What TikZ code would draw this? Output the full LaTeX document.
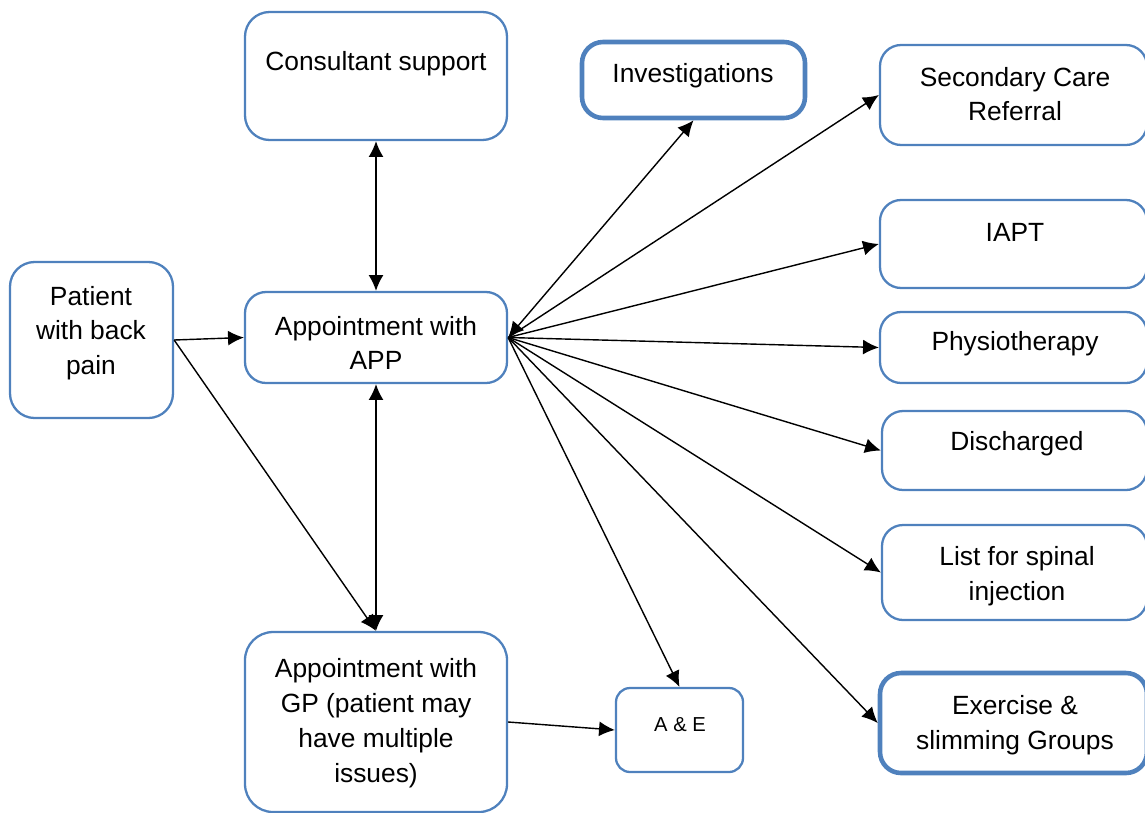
\documentclass[tikz,border=0pt]{standalone}
\usepackage{fontspec}
\setmainfont{Liberation Sans}
\usetikzlibrary{arrows.meta,fit}
\definecolor{ramka}{HTML}{4F81BD}
\tikzset{
  blok/.style={draw=ramka, line width=1.3pt, rounded corners=12pt, inner sep=0pt},
  blokzhirn/.style={blok, line width=2.6pt},
  tekst/.style={align=center, inner sep=0pt, yshift=-1.7pt, font=\fontsize{15}{19.8}\selectfont},
  strelka/.style={line width=0.8pt},
}
\begin{document}
\begin{tikzpicture}[x=0.02cm, y=-0.02cm, >={Latex[length=9pt,width=8.5pt]}]
\useasboundingbox (0,0) rectangle (1145,812);

% блоки слева
\node[blok, rounded corners=14pt, fit={(10,262) (173,418)}] (patient) {};
\node[tekst] at (91,330) {Patient\\with back\\pain};
\node[blok, rounded corners=14pt, fit={(245,12) (507,140)}] (consult) {};
\node[tekst] at (376,61) {Consultant support};
\node[blok, fit={(245,292) (507,383)}] (app) {};
\node[tekst] at (376,340) {Appointment with\\APP};
\node[blok, rounded corners=16pt, fit={(245,632) (507,812)}] (gp) {};
\node[tekst] at (376,720) {Appointment with\\GP (patient may\\have multiple\\issues)};
\node[blok, rounded corners=8pt, fit={(616,688) (743,772)}] (ae) {};
\node[tekst, font=\fontsize{11.5}{14}\selectfont] at (680,722) {A \& E};

% блоки справа
\node[blokzhirn, fit={(582,42) (805,118)}] (invest) {};
\node[tekst] at (693,73) {Investigations};
\node[blok, fit={(880,45) (1147,145)}] (second) {};
\node[tekst] at (1015,91) {Secondary Care\\Referral};
\node[blok, fit={(880,200) (1147,288)}] (iapt) {};
\node[tekst] at (1015,229) {IAPT};
\node[blok, fit={(880,312) (1147,383)}] (physio) {};
\node[tekst] at (1015,341) {Physiotherapy};
\node[blok, fit={(882,411) (1147,490)}] (disch) {};
\node[tekst] at (1017,441) {Discharged};
\node[blok, fit={(882,525) (1147,620)}] (spinal) {};
\node[tekst] at (1017,573) {List for spinal\\injection};
\node[blokzhirn, fit={(880,673) (1147,773)}] (exerc) {};
\node[tekst] at (1015,722) {Exercise \&\\slimming Groups};

% стрелки
\draw[strelka,->] (patient.east) -- (app.west);
\draw[strelka,->] (patient.east) -- (gp.north);
\draw[strelka,<->] (consult.south) -- (app.north);
\draw[strelka,<->] (app.south) -- (gp.north);
\draw[strelka,<->] (app.east) -- (invest.south);
\draw[strelka,->] (app.east) -- (second.west);
\draw[strelka,->] (app.east) -- (iapt.west);
\draw[strelka,->] (app.east) -- (physio.west);
\draw[strelka,->] (app.east) -- (disch.west);
\draw[strelka,->] (app.east) -- (spinal.west);
\draw[strelka,->] (app.east) -- (exerc.west);
\draw[strelka,->] (app.east) -- (ae.north);
\draw[strelka,->] (gp.east) -- (ae.west);

\end{tikzpicture}
\end{document}
